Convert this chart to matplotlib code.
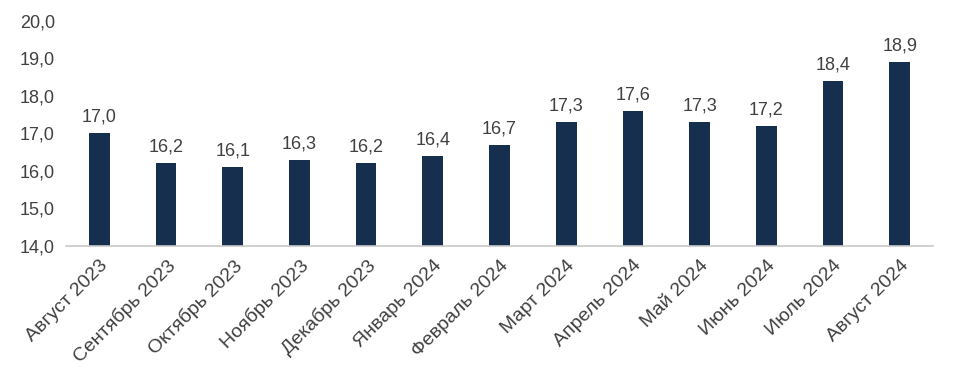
import matplotlib.pyplot as plt
import numpy as np

plt.rcParams['font.family'] = ['Liberation Sans', 'DejaVu Sans']

months = ['Август 2023', 'Сентябрь 2023', 'Октябрь 2023', 'Ноябрь 2023', 'Декабрь 2023',
          'Январь 2024', 'Февраль 2024', 'Март 2024', 'Апрель 2024', 'Май 2024',
          'Июнь 2024', 'Июль 2024', 'Август 2024']
values = [17.0, 16.2, 16.1, 16.3, 16.2, 16.4, 16.7, 17.3, 17.6, 17.3, 17.2, 18.4, 18.9]
yticks = [14, 15, 16, 17, 18, 19, 20]

bar_color = '#172F4E'
text_color = '#404040'

fig = plt.figure(figsize=(9.56, 3.8), dpi=100)
ax = fig.add_axes([0.069, 0.353, 0.907, 0.592])

x = np.arange(len(months))
ax.bar(x, values, width=0.31, color=bar_color, zorder=2)

for xi, v in zip(x, values):
    ax.text(xi, v + 0.2, f'{v:.1f}'.replace('.', ','), ha='center', va='bottom',
            fontsize=13, color=text_color)

ax.set_xlim(-0.5, len(months) - 0.5)
ax.set_ylim(14, 20)
ax.set_yticks(yticks)
ax.set_yticklabels([f'{t:.1f}'.replace('.', ',') for t in yticks], fontsize=13, color=text_color)
ax.set_xticks(x)
ax.set_xticklabels(months, rotation=45, ha='right', rotation_mode='anchor',
                   fontsize=14, color=text_color)
ax.tick_params(axis='both', length=0)
ax.tick_params(axis='y', pad=8)
ax.tick_params(axis='x', pad=8)

for side in ['top', 'right', 'left']:
    ax.spines[side].set_visible(False)
ax.spines['bottom'].set_color('#C8C8C8')
ax.spines['bottom'].set_linewidth(1.2)

fig.savefig('out.png', dpi=100)
